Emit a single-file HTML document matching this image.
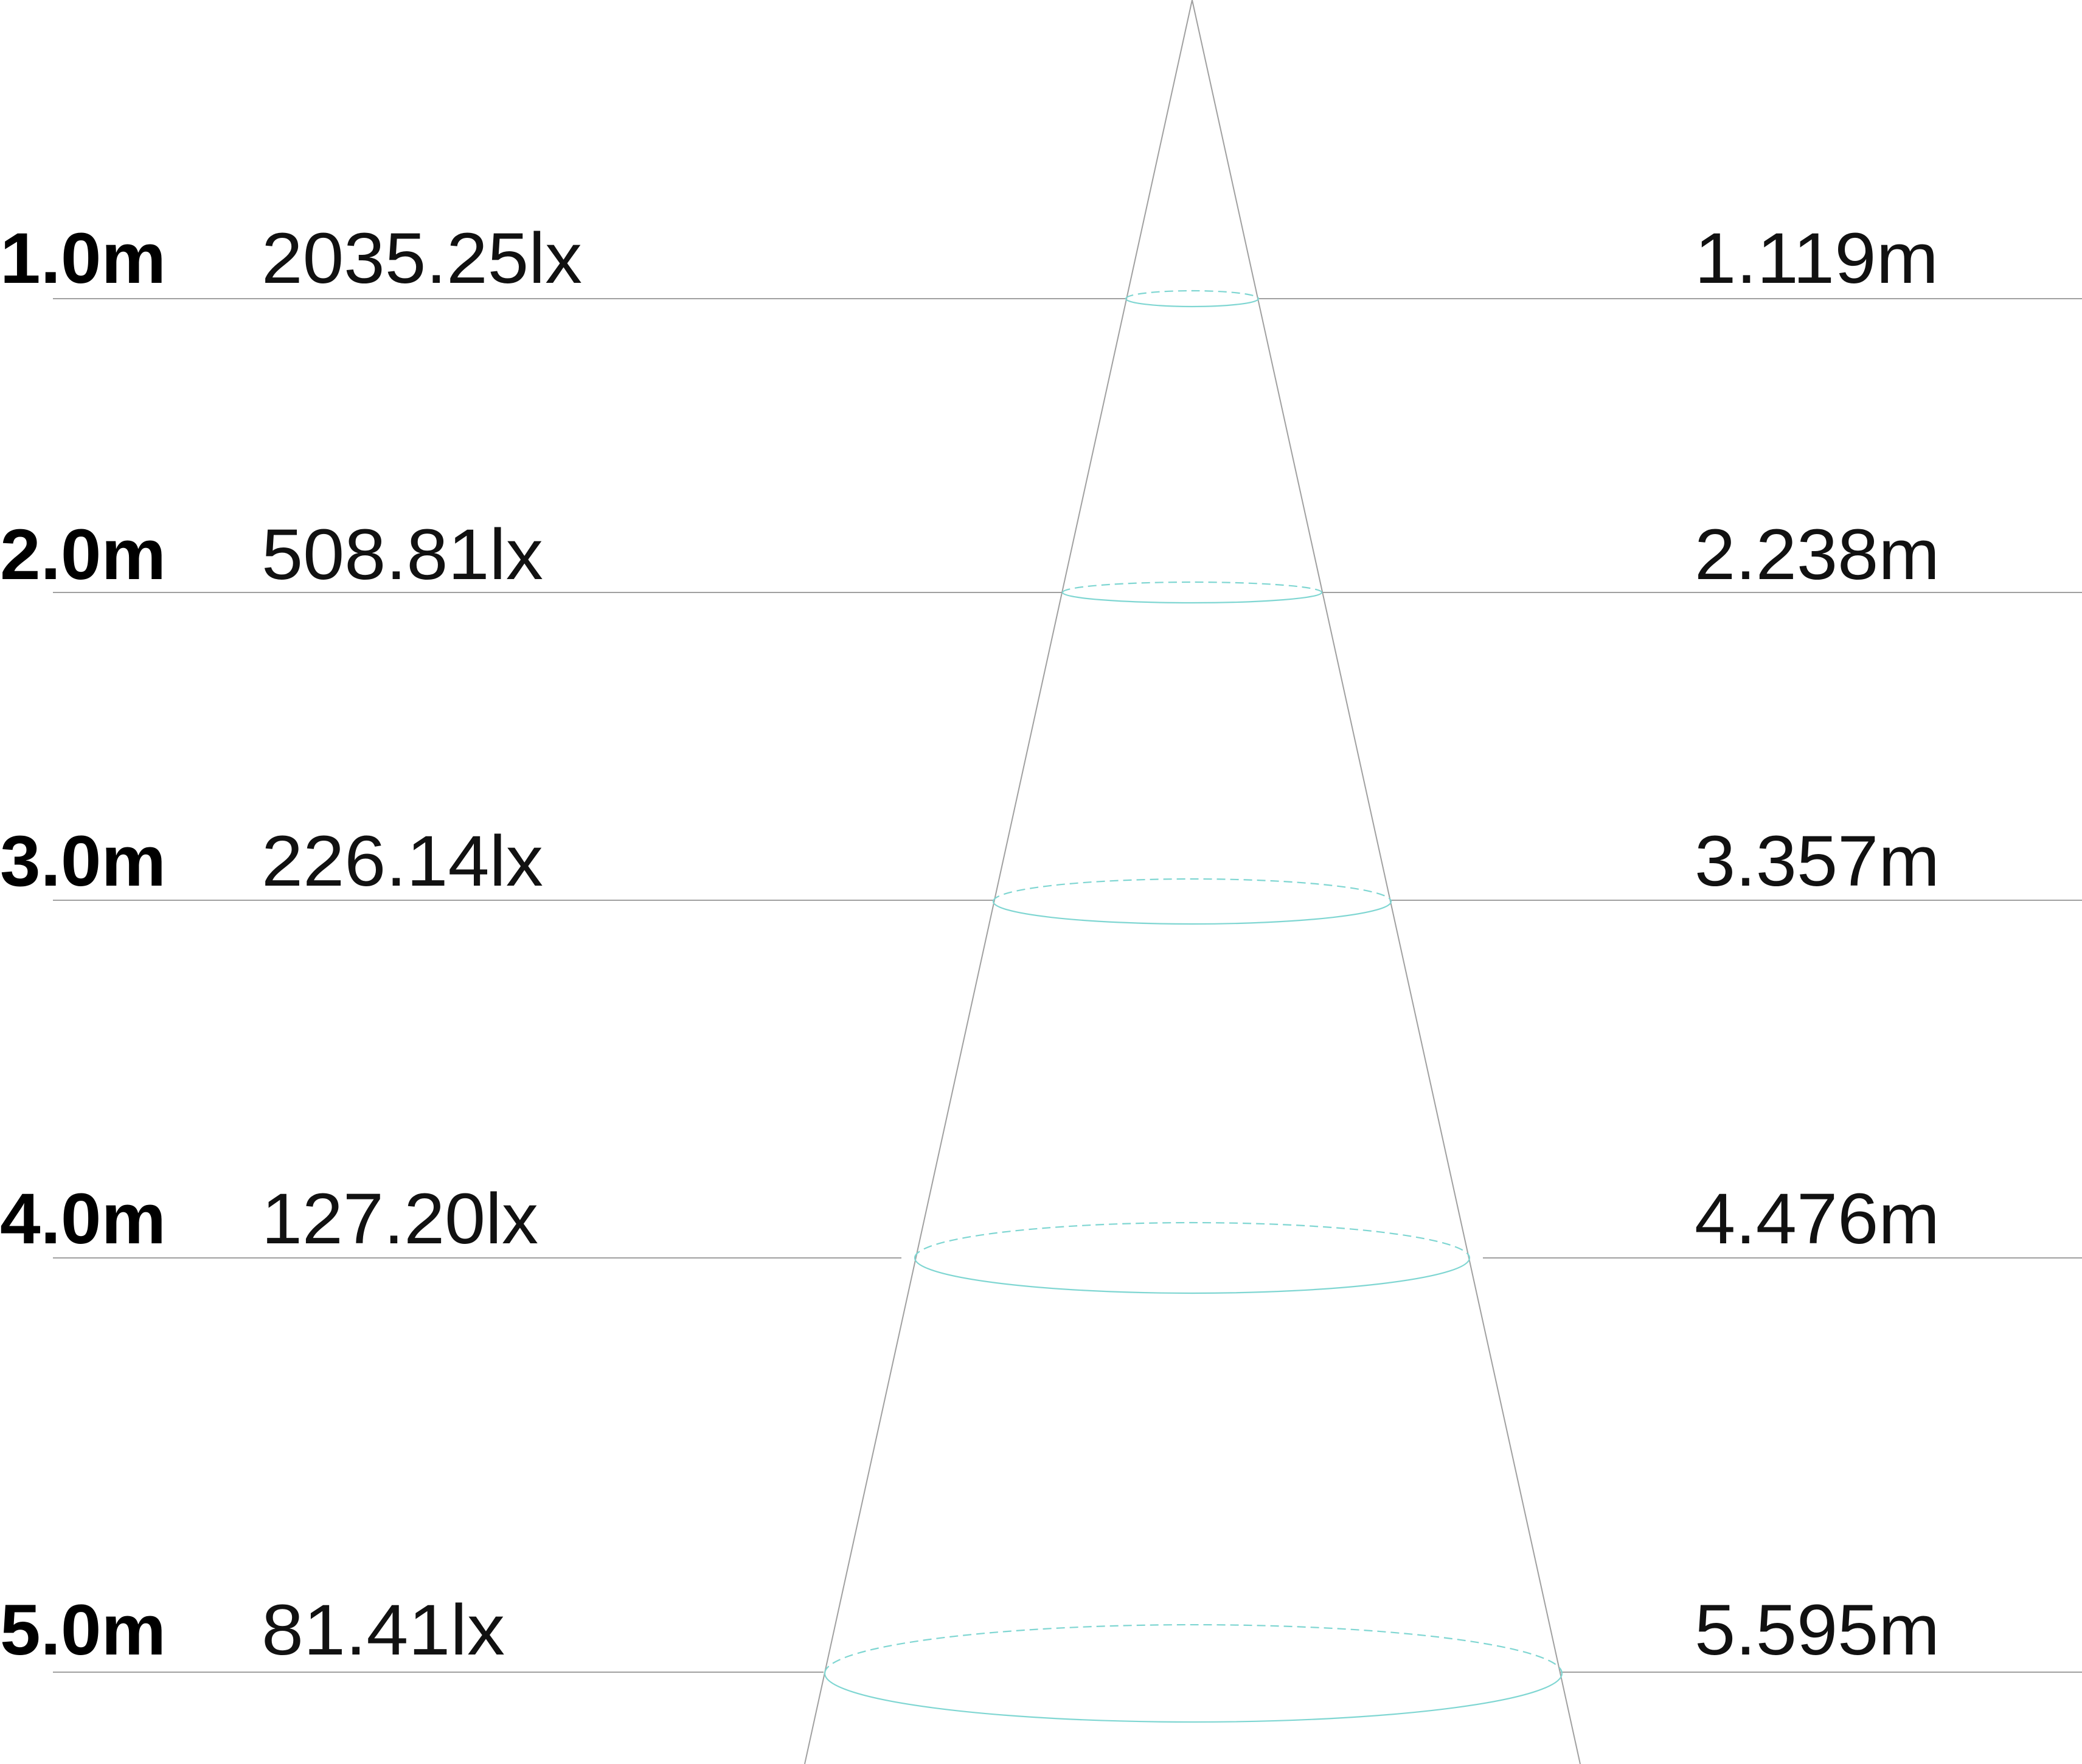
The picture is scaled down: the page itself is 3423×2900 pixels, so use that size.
<!DOCTYPE html>
<html><head><meta charset="utf-8"><style>
html,body{margin:0;padding:0;background:#fff;}
svg{display:block;}
text{font-family:"Liberation Sans",sans-serif;font-size:118px;fill:#111;}
.b{font-weight:bold;fill:#000;}
</style></head><body>
<svg width="3423" height="2900" viewBox="0 0 3423 2900" xmlns="http://www.w3.org/2000/svg">
<g stroke="#a0a0a0" stroke-width="2" fill="none">
<line x1="1960" y1="0" x2="1323" y2="2900"/>
<line x1="1960" y1="0" x2="2598" y2="2900"/>
<line x1="87" y1="491" x2="1851" y2="491"/><line x1="2069" y1="491" x2="3423" y2="491"/>
<line x1="87" y1="974" x2="1747" y2="974"/><line x1="2173" y1="974" x2="3423" y2="974"/>
<line x1="87" y1="1480" x2="1633" y2="1480"/><line x1="2287" y1="1480" x2="3423" y2="1480"/>
<line x1="87" y1="2068" x2="1482" y2="2068"/><line x1="2438" y1="2068" x2="3423" y2="2068"/>
<line x1="87" y1="2749" x2="1354" y2="2749"/><line x1="2566" y1="2749" x2="3423" y2="2749"/>
</g>
<g stroke="#7fd6d2" stroke-width="2.2" fill="none">
<path d="M1851 491 A109 13 0 0 0 2069 491" /><path d="M1851 491 A109 13 0 0 1 2069 491" stroke-dasharray="14 8"/>
<path d="M1747 974 A213 17 0 0 0 2173 974" /><path d="M1747 974 A213 17 0 0 1 2173 974" stroke-dasharray="14 8"/>
<path d="M1633 1482 A327 37 0 0 0 2287 1482" /><path d="M1633 1482 A327 37 0 0 1 2287 1482" stroke-dasharray="14 8"/>
<path d="M1504 2068 A456 58 0 0 0 2416 2068" /><path d="M1504 2068 A456 58 0 0 1 2416 2068" stroke-dasharray="14 8"/>
<path d="M1356 2751 A606 80 0 0 0 2568 2751" /><path d="M1356 2751 A606 80 0 0 1 2568 2751" stroke-dasharray="14 8"/>
</g>
<text class="b" x="0" y="465" textLength="273" lengthAdjust="spacingAndGlyphs">1.0m</text>
<text class="b" x="0" y="952" textLength="273" lengthAdjust="spacingAndGlyphs">2.0m</text>
<text class="b" x="0" y="1456" textLength="273" lengthAdjust="spacingAndGlyphs">3.0m</text>
<text class="b" x="0" y="2044" textLength="273" lengthAdjust="spacingAndGlyphs">4.0m</text>
<text class="b" x="0" y="2720" textLength="273" lengthAdjust="spacingAndGlyphs">5.0m</text>
<text x="430" y="465" textLength="527" lengthAdjust="spacingAndGlyphs">2035.25lx</text>
<text x="430" y="952" textLength="463" lengthAdjust="spacingAndGlyphs">508.81lx</text>
<text x="430" y="1456" textLength="463" lengthAdjust="spacingAndGlyphs">226.14lx</text>
<text x="430" y="2044" textLength="455" lengthAdjust="spacingAndGlyphs">127.20lx</text>
<text x="430" y="2720" textLength="400" lengthAdjust="spacingAndGlyphs">81.41lx</text>
<text x="2786" y="465" textLength="401" lengthAdjust="spacingAndGlyphs">1.119m</text>
<text x="2786" y="952" textLength="403" lengthAdjust="spacingAndGlyphs">2.238m</text>
<text x="2786" y="1456" textLength="403" lengthAdjust="spacingAndGlyphs">3.357m</text>
<text x="2786" y="2044" textLength="403" lengthAdjust="spacingAndGlyphs">4.476m</text>
<text x="2786" y="2720" textLength="403" lengthAdjust="spacingAndGlyphs">5.595m</text>
</svg>
</body></html>
